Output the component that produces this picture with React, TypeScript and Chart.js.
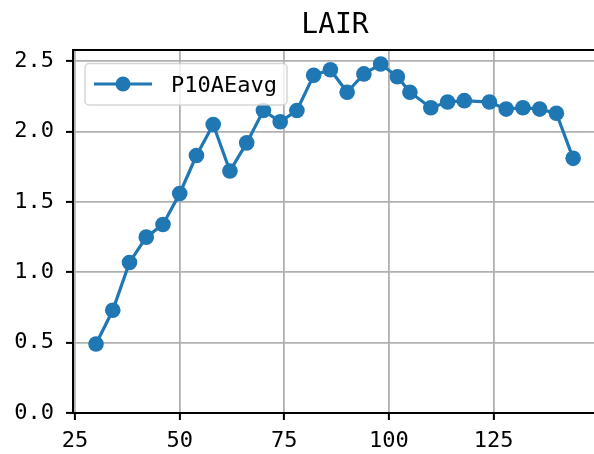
import React, { useEffect, useRef } from "react";
import { Chart, registerables } from "chart.js";

Chart.register(...registerables);

const titleText = "LAIR";
const seriesLabel = "P10AEavg";
const xValues = [30, 34, 38, 42, 46, 50, 54, 58, 62, 66, 70, 74, 78, 82, 86, 90, 94, 98, 102, 105, 110, 114, 118, 124, 128, 132, 136, 140, 144];
const seriesValues = [0.49, 0.73, 1.07, 1.25, 1.34, 1.56, 1.83, 2.05, 1.72, 1.92, 2.15, 2.07, 2.15, 2.40, 2.44, 2.28, 2.41, 2.48, 2.39, 2.28, 2.17, 2.21, 2.22, 2.21, 2.16, 2.17, 2.16, 2.13, 1.81];
const xTickValues = [25, 50, 75, 100, 125];
const yTickValues = [0, 0.5, 1.0, 1.5, 2.0, 2.5];

const FONT = "'DejaVu Sans Mono', 'Liberation Mono', monospace";
const BLUE = "#1f77b4";

export default function App() {
  const canvasRef = useRef<HTMLCanvasElement | null>(null);

  useEffect(() => {
    const canvas = canvasRef.current;
    if (!canvas) return;

    const framePlugin = {
      id: "framePlugin",
      afterDatasetsDraw(chart: any) {
        const { ctx, chartArea } = chart;
        ctx.save();
        ctx.strokeStyle = "#000";
        ctx.lineWidth = 2;
        ctx.beginPath();
        ctx.moveTo(chartArea.left, chartArea.top);
        ctx.lineTo(chartArea.right, chartArea.top);
        ctx.lineTo(chartArea.right, chartArea.bottom);
        ctx.stroke();
        ctx.restore();
      },
    };

    const titleLegendPlugin = {
      id: "titleLegendPlugin",
      afterDraw(chart: any) {
        const { ctx, chartArea } = chart;
        ctx.save();
        // title
        ctx.fillStyle = "#000";
        ctx.font = `28px ${FONT}`;
        ctx.textAlign = "center";
        ctx.textBaseline = "alphabetic";
        ctx.fillText(titleText, (chartArea.left + chartArea.right) / 2, 33);

        // legend
        const bx = 85, by = 63.5, bw = 202, bh = 41.5, r = 4;
        ctx.beginPath();
        ctx.moveTo(bx + r, by);
        ctx.lineTo(bx + bw - r, by);
        ctx.arcTo(bx + bw, by, bx + bw, by + r, r);
        ctx.lineTo(bx + bw, by + bh - r);
        ctx.arcTo(bx + bw, by + bh, bx + bw - r, by + bh, r);
        ctx.lineTo(bx + r, by + bh);
        ctx.arcTo(bx, by + bh, bx, by + bh - r, r);
        ctx.lineTo(bx, by + r);
        ctx.arcTo(bx, by, bx + r, by, r);
        ctx.closePath();
        ctx.fillStyle = "rgba(255,255,255,0.8)";
        ctx.fill();
        ctx.strokeStyle = "rgba(204,204,204,0.8)";
        ctx.lineWidth = 1.5;
        ctx.stroke();

        const ly = 84;
        ctx.strokeStyle = BLUE;
        ctx.lineWidth = 3;
        ctx.beginPath();
        ctx.moveTo(94, ly);
        ctx.lineTo(152, ly);
        ctx.stroke();
        ctx.fillStyle = BLUE;
        ctx.beginPath();
        ctx.arc(123, ly, 7.5, 0, Math.PI * 2);
        ctx.fill();

        ctx.fillStyle = "#000";
        ctx.font = `22px ${FONT}`;
        ctx.textAlign = "left";
        ctx.textBaseline = "alphabetic";
        ctx.fillText(seriesLabel, 171, 92);
        ctx.restore();
      },
    };

    const chart = new Chart(canvas, {
      type: "line",
      data: {
        datasets: [
          {
            label: seriesLabel,
            data: xValues.map((x, i) => ({ x, y: seriesValues[i] })),
            borderColor: BLUE,
            backgroundColor: BLUE,
            borderWidth: 3.2,
            pointRadius: 7.8,
            pointBorderWidth: 0,
            pointBackgroundColor: BLUE,
            tension: 0,
            fill: false,
            clip: false as any,
          },
        ],
      },
      options: {
        responsive: false,
        animation: false,
        devicePixelRatio: 1,
        layout: { autoPadding: false, padding: { top: 50, right: 3, left: 0, bottom: 0 } } as any,
        plugins: {
          legend: { display: false },
          title: { display: false },
          tooltip: { enabled: false },
        },
        scales: {
          x: {
            type: "linear",
            position: "bottom",
            min: 24.5,
            max: 149.7,
            afterBuildTicks: (s: any) => {
              s.ticks = xTickValues.map((v) => ({ value: v }));
            },
            afterFit: (s: any) => {
              s.height = 41;
              s.paddingLeft = 0;
              s.paddingRight = 0;
            },
            ticks: {
              autoSkip: false,
              maxRotation: 0,
              color: "#000",
              font: { family: FONT, size: 22 },
              padding: 8,
              callback: (v: any) => String(v),
            },
            grid: {
              color: "#b0b0b0",
              lineWidth: 1.8,
              drawTicks: true,
              tickLength: 7,
              tickColor: "#000",
              tickWidth: 2,
            } as any,
            border: { display: true, color: "#000", width: 2 },
          },
          y: {
            type: "linear",
            position: "left",
            min: 0,
            max: 2.58,
            afterBuildTicks: (s: any) => {
              s.ticks = yTickValues.map((v) => ({ value: v }));
            },
            afterFit: (s: any) => {
              s.width = 73;
              s.paddingTop = 0;
              s.paddingBottom = 0;
            },
            ticks: {
              autoSkip: false,
              color: "#000",
              font: { family: FONT, size: 22 },
              padding: 12,
              callback: (v: any) => Number(v).toFixed(1),
            },
            grid: {
              color: "#b0b0b0",
              lineWidth: 1.8,
              drawTicks: true,
              tickLength: 7,
              tickColor: "#000",
              tickWidth: 2,
            } as any,
            border: { display: true, color: "#000", width: 2 },
          },
        },
      },
      plugins: [framePlugin, titleLegendPlugin],
    });

    return () => {
      chart.destroy();
    };
  }, []);

  return (
    <div
      style={{
        position: "fixed",
        left: 0,
        top: 0,
        width: 594,
        height: 454,
        overflow: "hidden",
        background: "#fff",
      }}
    >
      <canvas ref={canvasRef} width={600} height={454} style={{ display: "block", width: 600, height: 454 }} />
    </div>
  );
}
